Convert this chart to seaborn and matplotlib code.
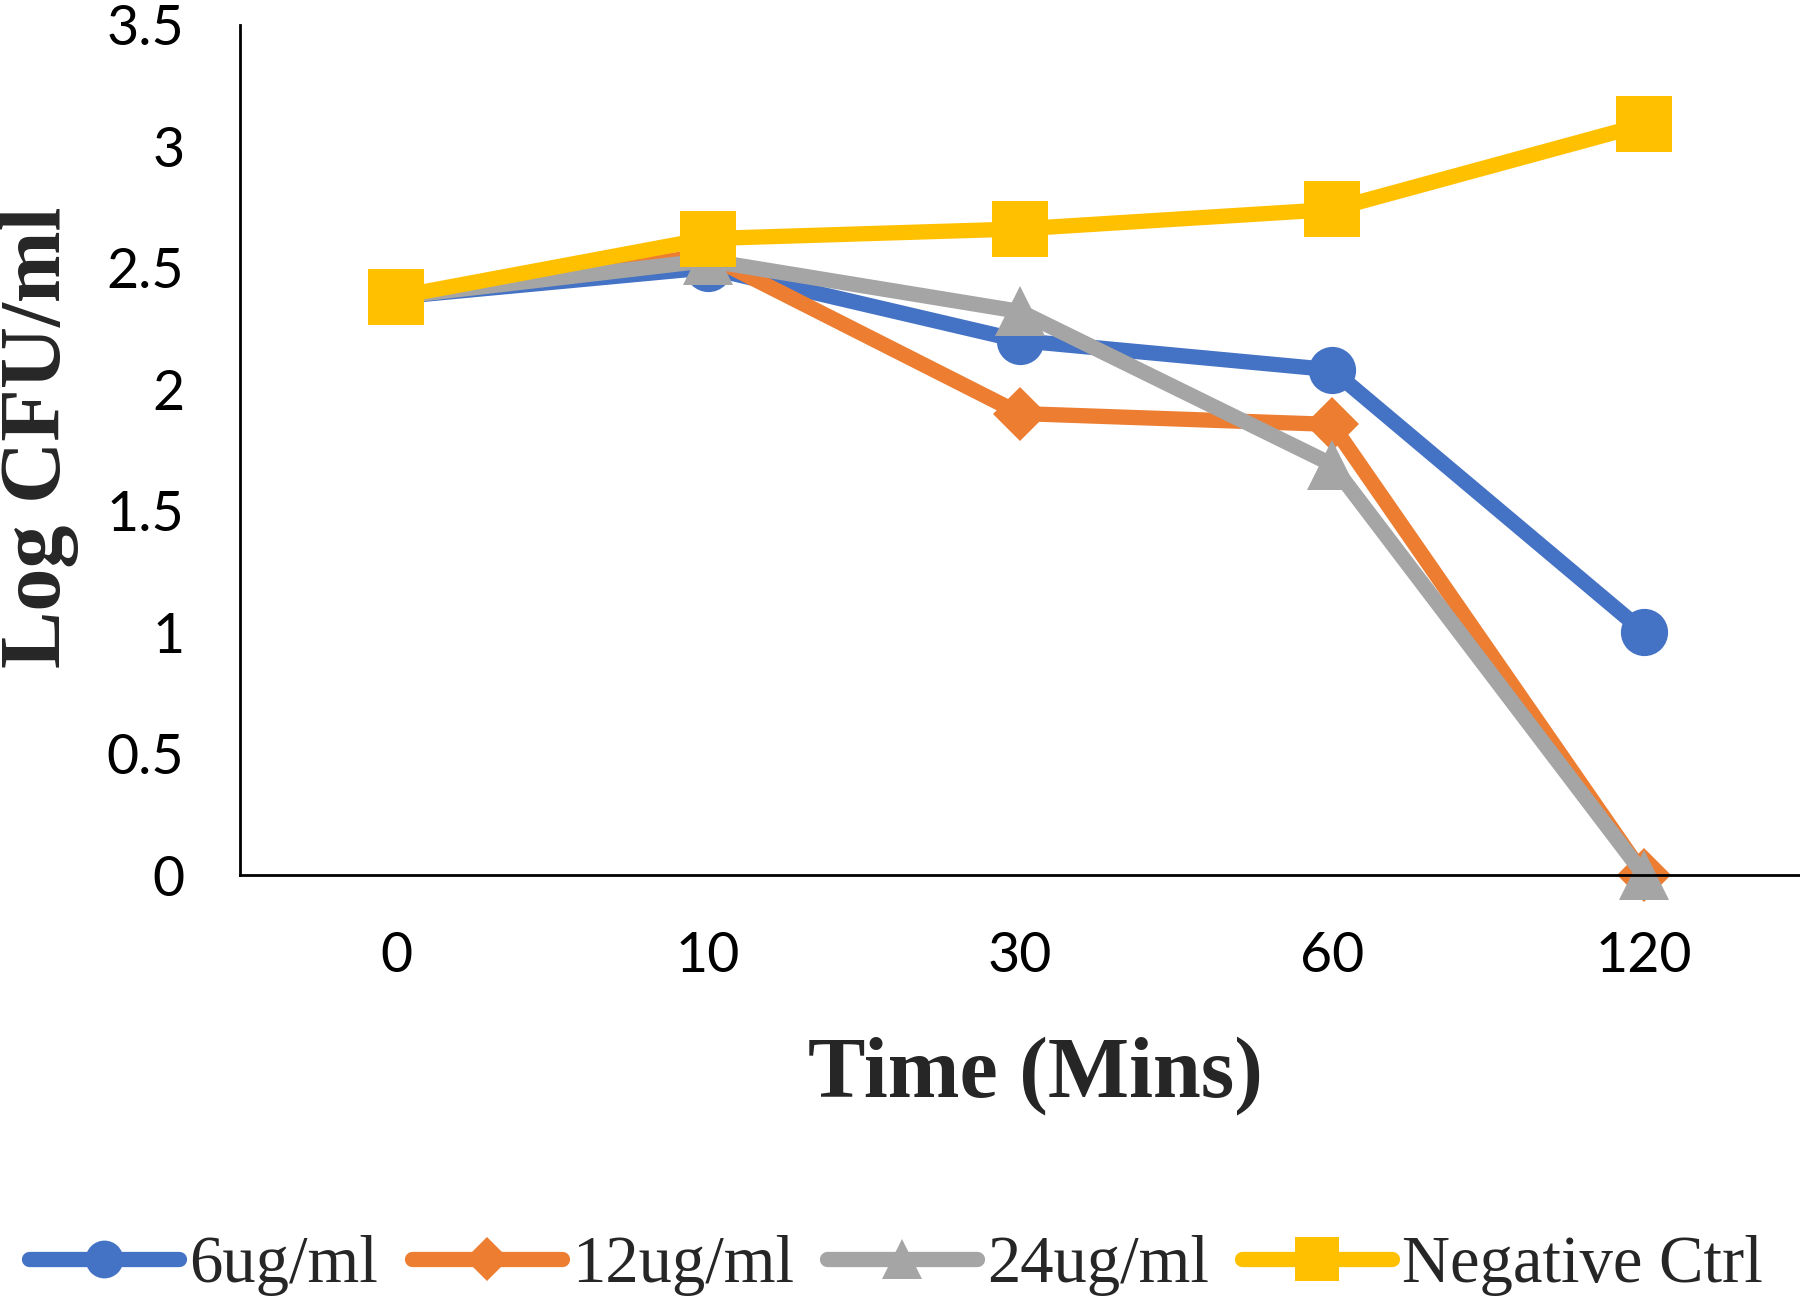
import matplotlib
matplotlib.use("Agg")
import matplotlib.pyplot as plt
import seaborn as sns
import pandas as pd

# ---- data ----
times = ["0", "10", "30", "60", "120"]
ug6 = [2.38, 2.50, 2.20, 2.08, 1.00]
ug12 = [2.38, 2.55, 1.90, 1.855, 0.0]
ug24 = [2.38, 2.53, 2.32, 1.69, 0.0]
neg_ctrl = [2.38, 2.62, 2.66, 2.74, 3.09]
series_names = ["6ug/ml", "12ug/ml", "24ug/ml", "Negative Ctrl"]
y_ticks = [0, 0.5, 1, 1.5, 2, 2.5, 3, 3.5]
y_tick_labels = ["0", "0.5", "1", "1.5", "2", "2.5", "3", "3.5"]

sns.set_theme(style="white")
plt.rcParams["font.family"] = ["Lato", "DejaVu Sans"]

fig = plt.figure(figsize=(18, 13.01), dpi=100)
ax = fig.add_axes([0.1333, 0.3274, 0.8667, 0.6535])

styles = [
    dict(color="#4472C4", marker="o", markersize=34),
    dict(color="#ED7D31", marker="D", markersize=28),
    dict(color="#A5A5A5", marker="^", markersize=36),
    dict(color="#FFC000", marker="s", markersize=40),
]
values = [ug6, ug12, ug24, neg_ctrl]

for name, vals, st in zip(series_names, values, styles):
    df = pd.DataFrame({"time": times, "val": vals})
    sns.lineplot(data=df, x="time", y="val", sort=False, ax=ax, label=name,
                 color=st["color"], marker=st["marker"], markersize=st["markersize"],
                 markeredgewidth=0, linewidth=11, solid_joinstyle="round",
                 solid_capstyle="round", clip_on=False)

ax.set_xlim(-0.5, 4.5)
ax.set_ylim(0, 3.5)
ax.set_yticks(y_ticks)
ax.set_yticklabels(y_tick_labels)

for s in ["top", "right"]:
    ax.spines[s].set_visible(False)
for s in ["left", "bottom"]:
    ax.spines[s].set_color("black")
    ax.spines[s].set_linewidth(2)

ax.tick_params(axis="both", length=0, labelsize=40, colors="black")
ax.tick_params(axis="y", pad=40)
ax.tick_params(axis="x", pad=40)

ax.set_xlabel("Time (Mins)", fontsize=62, fontweight="bold",
              family=["Liberation Serif"])
ax.set_ylabel("Log CFU/ml", fontsize=62, fontweight="bold",
              family=["Liberation Serif"])
ax.yaxis.set_label_coords(-0.103, 0.515)
ax.xaxis.set_label_coords(0.51, -0.19)

ax.get_legend().remove()
handles, labels = ax.get_legend_handles_labels()
leg = fig.legend(handles, labels, loc="center", bbox_to_anchor=(0.498, 0.027),
                 ncol=4, frameon=False, handlelength=2.25, handletextpad=0.15,
                 columnspacing=0.5, prop={"family": "Liberation Serif", "size": 48},
                 markerscale=0.8)

fig.savefig("out.png", dpi=100)
